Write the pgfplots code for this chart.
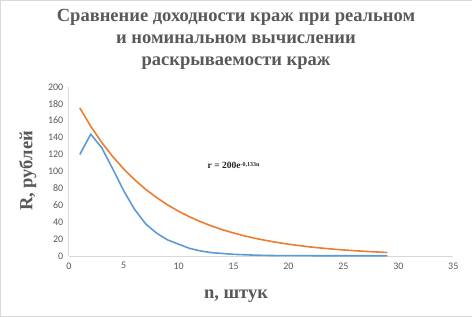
\documentclass[border=0pt]{standalone}
\usepackage{pgfplots}
\pgfplotsset{compat=1.18}
\usepackage{fontspec}
\setmainfont{Liberation Serif}
\newfontfamily\tickfont{Carlito}
\definecolor{xorange}{HTML}{ED7D31}
\definecolor{xblue}{HTML}{5B9BD5}
\definecolor{xgrey}{HTML}{595959}
\definecolor{xaxis}{HTML}{D9D9D9}
\begin{document}
\begin{tikzpicture}
\draw[xaxis] (0.5pt,0.5pt) rectangle (471.5pt,316.5pt);
\begin{axis}[
  scale only axis, width=384pt, height=169pt,
  at={(69pt,61pt)}, anchor=south west,
  xmin=0, xmax=35, ymin=0, ymax=200,
  xtick={0,5,...,35}, ytick={0,20,...,200},
  axis x line=bottom, axis y line=left,
  axis line style={xaxis, line width=0.8pt, -},
  major tick length=0pt,
  tick label style={font=\tickfont\fontsize{10}{11}\selectfont, text=xgrey},
  /pgf/number format/assume math mode=true,
  xticklabel style={yshift=-3pt},
  yticklabel style={xshift=-2pt},
  clip=false,
]
\addplot[xorange, line width=1.6pt] coordinates {
(1,175.1)(2,153.3)(3,134.2)(4,117.5)(5,102.9)(6,90.1)(7,78.8)(8,69.0)(9,60.4)(10,52.9)
(11,46.3)(12,40.5)(13,35.5)(14,31.1)(15,27.2)(16,23.8)(17,20.8)(18,18.3)(19,16.0)(20,14.0)
(21,12.3)(22,10.7)(23,9.4)(24,8.2)(25,7.2)(26,6.3)(27,5.5)(28,4.8)(29,4.2)};
\addplot[xblue, line width=1.6pt] coordinates {
(1,120)(2,144)(3,128)(4,103)(5,77)(6,55)(7,38)(8,27)(9,19)(10,14)
(11,9)(12,6)(13,4)(14,3)(15,2)(16,1.5)(17,1)(18,0.7)(19,0.5)(20,0.5)
(21,0.4)(22,0.4)(23,0.3)(24,0.3)(25,0.3)(26,0.3)(27,0.3)(28,0.3)(29,0.3)};
\node[font=\bfseries\fontsize{9.5}{10}\selectfont, text=black!85] at (axis cs:15.0,107) {r = 200e\raisebox{0.6ex}{\fontsize{6}{6}\selectfont -0,133n}};
\end{axis}
\node[font=\bfseries\fontsize{18.5}{22}\selectfont, text=xgrey, align=center] at (236pt,277pt)
  {Сравнение доходности краж при реальном\\и номинальном вычислении\\раскрываемости краж};
\node[font=\bfseries\fontsize{18.5}{18}\selectfont, text=xgrey, rotate=90] at (28pt,146pt) {R, рублей};
\node[font=\bfseries\fontsize{18.5}{18}\selectfont, text=xgrey] at (236pt,21pt) {n, штук};
\end{tikzpicture}
\end{document}
